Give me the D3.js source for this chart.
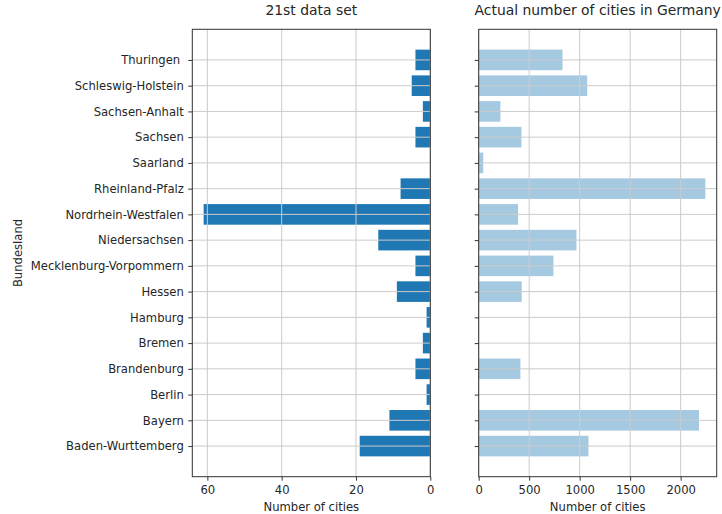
<!DOCTYPE html>
<html>
<head>
<meta charset="utf-8">
<script src="https://cdn.jsdelivr.net/npm/d3@7"></script>
<style>
  body { margin: 0; background: #fff; }
  svg { display: block; font-family: "DejaVu Sans", sans-serif; }
  text { white-space: pre; }
</style>
</head>
<body>
<svg id="chart" width="722" height="514"></svg>
<script>
// States, listed top to bottom as drawn
const states = [
  "Thuringen ", "Schleswig-Holstein", "Sachsen-Anhalt", "Sachsen", "Saarland",
  "Rheinland-Pfalz", "Nordrhein-Westfalen", "Niedersachsen", "Mecklenburg-Vorpommern",
  "Hessen", "Hamburg", "Bremen", "Brandenburg", "Berlin", "Bayern", "Baden-Wurttemberg"
];
// Cities per state in the 21st data set
const sampleCounts = [4, 5, 2, 4, 0, 8, 61, 14, 4, 9, 1, 2, 4, 1, 11, 19];
// Actual number of cities per state
const actualCounts = [830, 1075, 215, 423, 45, 2245, 390, 968, 740, 426, 0, 0, 413, 0, 2182, 1087];

const leftTicks = [60, 40, 20, 0];
const rightTicks = [0, 500, 1000, 1500, 2000];

const svg = d3.select("#chart");
const plotTop = 29.3, plotBottom = 476.7;
const textColor = "#262626";
const gridColor = "#cbcbcb";
const tickFont = 11.6, titleFont = 13.9;

// Shared band positions: matplotlib-like y limits in index units
const n = states.length;
const pad = 0.05 * (n - 1 + 0.8);
const yIdx = d3.scaleLinear()
  .domain([-0.4 - pad, n - 1 + 0.4 + pad])
  .range([plotBottom, plotTop]);
// index 0 sits at the top
const yPos = i => yIdx(n - 1 - i);
const barH = Math.abs(yIdx(0.4) - yIdx(-0.4));

function panel(opts) {
  const g = svg.append("g");
  const x = opts.x;
  const [x0, x1] = x.range();

  // bars
  g.selectAll("rect.bar").data(opts.values).join("rect")
    .attr("class", "bar")
    .attr("x", d => Math.min(x(0), x(d)))
    .attr("width", d => Math.abs(x(d) - x(0)))
    .attr("y", (d, i) => yPos(i) - barH / 2)
    .attr("height", barH)
    .attr("fill", opts.fill)
    .attr("fill-opacity", opts.opacity);

  // grid drawn above bars
  g.selectAll("line.vg").data(opts.ticks).join("line")
    .attr("class", "vg")
    .attr("x1", d => x(d)).attr("x2", d => x(d))
    .attr("y1", plotTop).attr("y2", plotBottom)
    .attr("stroke", gridColor).attr("stroke-width", 1);
  g.selectAll("line.hg").data(states).join("line")
    .attr("class", "hg")
    .attr("x1", x0).attr("x2", x1)
    .attr("y1", (d, i) => yPos(i)).attr("y2", (d, i) => yPos(i))
    .attr("stroke", gridColor).attr("stroke-width", 1);

  // frame
  g.append("rect")
    .attr("x", Math.min(x0, x1)).attr("y", plotTop)
    .attr("width", Math.abs(x1 - x0)).attr("height", plotBottom - plotTop)
    .attr("fill", "none").attr("stroke", "#333").attr("stroke-width", 1);

  // x axis
  const xa = g.append("g").attr("transform", `translate(0,${plotBottom})`)
    .call(d3.axisBottom(x).tickValues(opts.ticks).tickFormat(d3.format("d"))
      .tickSize(4).tickPadding(5));
  xa.select(".domain").remove();
  xa.selectAll("line").attr("stroke", "#333");
  xa.selectAll("text").attr("fill", textColor).attr("font-size", tickFont)
    .attr("font-family", "DejaVu Sans, sans-serif");

  // y ticks
  const ya = g.append("g").attr("transform", `translate(${Math.min(x0, x1)},0)`)
    .call(d3.axisLeft(d3.scalePoint().domain(states).range([yPos(0), yPos(n - 1)]))
      .tickSize(4).tickPadding(4.5));
  ya.select(".domain").remove();
  ya.selectAll("line").attr("stroke", "#333");
  ya.selectAll("text").attr("fill", textColor).attr("font-size", tickFont)
    .attr("font-family", "DejaVu Sans, sans-serif");
  if (!opts.showLabels) ya.selectAll("text").remove();

  const cx = (x0 + x1) / 2;
  g.append("text").attr("x", cx).attr("y", 14.5)
    .attr("text-anchor", "middle").attr("font-size", titleFont).attr("fill", textColor)
    .text(opts.title);
  g.append("text").attr("x", cx).attr("y", 511)
    .attr("text-anchor", "middle").attr("font-size", tickFont).attr("fill", textColor)
    .text("Number of cities");
}

const leftMax = d3.max(sampleCounts) * 1.05;
panel({
  x: d3.scaleLinear().domain([leftMax, 0]).range([192.3, 430.3]),
  values: sampleCounts, ticks: leftTicks,
  fill: "#1f77b4", opacity: 1, showLabels: true,
  title: "21st data set"
});

const rightMax = d3.max(actualCounts) * 1.05;
panel({
  x: d3.scaleLinear().domain([0, rightMax]).range([478.7, 716.7]),
  values: actualCounts, ticks: rightTicks,
  fill: "#1f77b4", opacity: 0.4, showLabels: false,
  title: "Actual number of cities in Germany"
});

svg.append("text")
  .attr("transform", `translate(22,${(plotTop + plotBottom) / 2}) rotate(-90)`)
  .attr("text-anchor", "middle").attr("font-size", tickFont).attr("fill", textColor)
  .text("Bundesland");
</script>
</body>
</html>
